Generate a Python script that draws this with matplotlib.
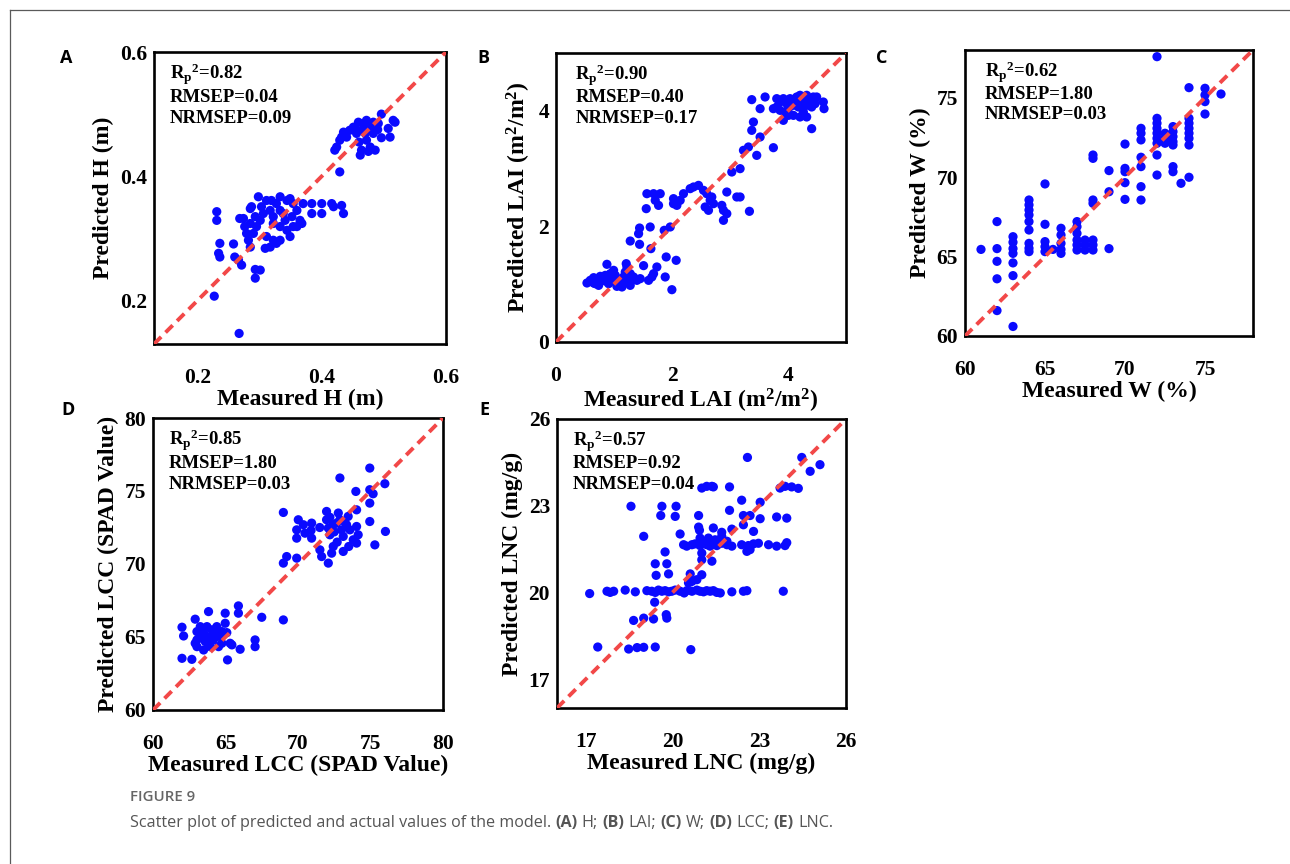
import matplotlib
matplotlib.use('Agg')
import matplotlib.pyplot as plt
from matplotlib.lines import Line2D

plt.rcParams['font.family'] = 'Liberation Serif'
plt.rcParams['font.weight'] = 'bold'
plt.rcParams['mathtext.fontset'] = 'custom'
plt.rcParams['mathtext.rm'] = 'Liberation Serif:bold'
plt.rcParams['mathtext.it'] = 'Liberation Serif:bold'
plt.rcParams['mathtext.bf'] = 'Liberation Serif:bold'

# ---- H (m) ----
h_meas = [0.496, 0.515, 0.518, 0.507, 0.510, 0.496, 0.486, 0.462, 0.464, 0.478,
          0.472, 0.483, 0.478, 0.467, 0.459, 0.451, 0.445, 0.435, 0.432, 0.429,
          0.424, 0.421, 0.440, 0.456, 0.464, 0.470, 0.472, 0.483, 0.491, 0.429,
          0.470, 0.460, 0.475, 0.490, 0.455,
          0.231, 0.231, 0.236, 0.234, 0.236, 0.258, 0.260, 0.266, 0.271, 0.293,
          0.301, 0.293, 0.274, 0.276, 0.279, 0.282, 0.285, 0.287, 0.298, 0.311,
          0.317, 0.322, 0.327, 0.333, 0.344, 0.354, 0.360, 0.365, 0.370, 0.384,
          0.384, 0.400, 0.400, 0.416, 0.419, 0.432, 0.435, 0.349, 0.344, 0.333,
          0.322, 0.317, 0.309, 0.311, 0.295, 0.290, 0.301, 0.306, 0.338, 0.352,
          0.360, 0.368, 0.333, 0.327, 0.285, 0.293, 0.303, 0.319, 0.349, 0.333,
          0.322, 0.341, 0.354, 0.285, 0.268,
          0.227, 0.267]
h_pred = [0.500, 0.490, 0.487, 0.477, 0.463, 0.462, 0.442, 0.434, 0.442, 0.447,
          0.458, 0.469, 0.479, 0.485, 0.487, 0.479, 0.474, 0.471, 0.463, 0.458,
          0.447, 0.442, 0.463, 0.469, 0.474, 0.469, 0.490, 0.487, 0.485, 0.407,
          0.480, 0.455, 0.440, 0.475, 0.475,
          0.343, 0.329, 0.292, 0.276, 0.270, 0.291, 0.270, 0.265, 0.257, 0.250,
          0.249, 0.236, 0.332, 0.319, 0.308, 0.297, 0.286, 0.351, 0.367, 0.361,
          0.345, 0.335, 0.356, 0.367, 0.361, 0.356, 0.345, 0.329, 0.356, 0.356,
          0.340, 0.356, 0.340, 0.356, 0.351, 0.353, 0.340, 0.303, 0.313, 0.319,
          0.297, 0.286, 0.284, 0.303, 0.319, 0.308, 0.329, 0.340, 0.340, 0.335,
          0.319, 0.324, 0.297, 0.292, 0.324, 0.335, 0.351, 0.361, 0.364, 0.345,
          0.324, 0.329, 0.319, 0.348, 0.332,
          0.207, 0.147]

# ---- LAI (m2/m2) ----
lai_meas = [0.534, 0.591, 0.649, 0.677, 0.735, 0.792, 0.850, 0.878, 0.907, 0.964,
            0.993, 1.022, 1.050, 1.108, 1.137, 1.165, 1.194, 1.211, 1.223, 1.251,
            1.280, 1.337, 1.395, 1.452, 1.510, 1.596, 1.653, 1.682, 1.739, 1.883,
            1.900, 1.998, 2.072, 0.649, 0.763, 0.936, 1.079, 1.165, 1.280, 1.022,
            0.850,
            1.280, 1.441, 1.424, 1.441, 1.624, 1.636, 1.866, 1.969, 1.556, 1.567,
            1.682, 1.797, 1.711, 1.768, 2.026, 2.026, 2.084, 2.141, 2.198, 2.313,
            2.371, 2.457, 2.543, 2.600, 2.658, 2.715, 2.629, 2.572, 2.686, 2.859,
            2.887, 2.945, 2.887, 2.945, 3.117, 3.174, 3.335, 3.031, 3.174, 3.232,
            3.318, 3.461, 3.519, 3.748, 3.375, 3.404, 3.519, 3.605, 3.375,
            3.806, 3.863, 3.920, 3.978, 4.035, 4.093, 4.150, 4.207, 4.265, 4.322,
            4.380, 4.437, 4.494, 4.609, 4.621, 3.806, 3.863, 3.949, 4.007, 4.093,
            4.179, 4.265, 4.322, 4.207, 4.093, 4.007, 3.920, 4.408, 3.748, 4.150,
            4.236, 4.322, 4.408, 4.466]
lai_pred = [1.021, 1.067, 1.113, 1.009, 0.980, 1.078, 1.153, 1.344, 1.009, 1.096,
            1.240, 1.153, 0.963, 1.038, 0.952, 1.125, 1.211, 1.355, 1.298, 1.067,
            1.182, 1.125, 1.067, 1.096, 1.321, 1.067, 1.125, 1.182, 1.298, 1.125,
            1.471, 0.905, 1.413, 1.021, 1.136, 1.182, 1.067, 1.009, 0.980, 1.038,
            1.055,
            1.747, 1.972, 1.874, 1.690, 1.990, 1.615, 1.932, 1.990, 2.307, 2.566,
            2.566, 2.566, 2.451, 2.364, 2.480, 2.393, 2.364, 2.451, 2.566, 2.653,
            2.682, 2.710, 2.624, 2.566, 2.451, 2.393, 2.278, 2.336, 2.509, 2.364,
            2.278, 2.220, 2.105, 2.595, 2.509, 2.509, 2.261, 2.941, 2.999, 3.316,
            3.374, 3.229, 3.547, 3.362, 3.662, 3.806, 4.037, 4.239, 4.193,
            4.210, 4.152, 4.210, 4.123, 4.210, 4.181, 4.239, 4.268, 4.210, 4.268,
            4.181, 4.239, 4.239, 4.152, 4.037, 4.066, 4.008, 3.979, 4.037, 4.095,
            4.066, 3.979, 3.893, 3.893, 3.921, 3.921, 3.835, 3.691, 4.037, 4.152,
            4.123, 4.095, 4.066, 4.123]

# ---- W (%) ----
w_meas = [61,
          62, 62, 62, 62, 62,
          63, 63, 63, 63, 63, 63, 63,
          64, 64, 64, 64, 64, 64, 64, 64, 64,
          65, 65, 65, 65, 65,
          65.5,
          66, 66, 66, 66, 66,
          67, 67, 67, 67, 67, 67,
          67.5, 67.5, 67.5,
          68, 68, 68, 68, 68, 68, 68,
          69, 69, 69,
          70, 70, 70, 70, 70,
          71, 71, 71, 71, 71, 71, 71,
          72, 72, 72, 72, 72, 72, 72, 72, 72,
          72.5, 72.5, 72.5,
          73, 73, 73, 73, 73, 73, 73,
          73.5,
          74, 74, 74, 74, 74, 74, 74, 74,
          75, 75, 75, 75,
          76]
w_pred = [65.45,
          67.2, 65.5, 64.7, 63.6, 61.6,
          66.25, 65.9, 65.5, 65.2, 64.6, 63.8, 60.6,
          68.56, 68.25, 67.93, 67.62, 67.2, 66.67, 65.83, 65.52, 65.31,
          69.57, 67.03, 65.94, 65.62, 65.31,
          65.45,
          66.78, 66.36, 65.83, 65.45, 65.2,
          67.2, 66.88, 66.46, 66.04, 65.73, 65.41,
          66.04, 65.73, 65.41,
          66.04, 65.73, 65.41, 68.56, 68.35, 71.39, 71.18,
          65.5, 69.08, 70.41,
          72.08, 70.55, 70.34, 69.65, 68.6,
          73.07, 72.76, 72.34, 71.25, 70.66, 69.4, 68.56,
          77.58, 73.7, 73.39, 73.07, 72.76, 72.44, 72.13, 71.39, 70.13,
          72.76, 72.44, 72.13,
          73.18, 72.86, 72.55, 72.23, 72.02, 70.66, 70.34,
          69.61,
          75.63, 73.7, 73.39, 73.07, 72.76, 72.44, 72.02, 69.99,
          75.59, 75.17, 74.75, 73.97,
          75.23]

# ---- LCC (SPAD value) ----
lcc_meas = [62.0, 62.11, 62.0, 62.68, 62.91, 63.03, 63.03, 63.03, 63.26, 63.49,
            63.72, 63.83, 63.94, 63.94, 64.06, 64.17, 64.40, 64.63, 64.75, 64.98,
            64.98, 65.09, 65.14, 65.32, 65.89, 65.89, 66.01, 67.04, 67.04, 67.5,
            68.99, 62.91, 63.26, 63.60, 64.29, 64.75, 63.49, 63.72, 64.52, 65.44,
            68.99, 68.99, 69.22, 70.02, 69.91, 69.91, 70.37, 70.48, 70.94, 70.94,
            71.51, 71.97, 71.97, 72.09, 72.20, 72.43, 72.66, 72.78, 72.89, 73.0,
            73.12, 73.12, 73.46, 73.58, 73.81, 73.99, 74.04, 74.04, 74.15, 74.04,
            74.95, 74.95, 74.95, 74.95, 75.18, 75.30, 75.99, 76.03, 71.63, 72.09,
            72.32, 72.89, 73.35, 72.43, 69.91, 72.5, 72.7, 73.2, 72.2, 71.5,
            70.9, 73.5]
lcc_pred = [65.67, 65.07, 63.54, 63.47, 66.22, 65.37, 64.34, 64.80, 65.71, 65.30,
            65.71, 66.74, 65.03, 64.34, 65.49, 64.80, 65.71, 65.03, 64.57, 66.63,
            65.94, 65.30, 63.43, 64.57, 67.13, 66.63, 64.16, 64.80, 64.34, 66.35,
            66.17, 64.57, 65.03, 64.69, 65.26, 65.37, 64.11, 64.80, 64.34, 64.46,
            73.53, 70.06, 70.51, 73.03, 72.34, 71.77, 72.69, 72.11, 72.80, 71.77,
            70.97, 73.60, 73.03, 72.46, 72.0, 71.20, 72.80, 73.49, 75.89, 72.34,
            71.89, 70.86, 73.26, 72.34, 71.66, 74.97, 73.71, 72.57, 72.0, 71.43,
            76.57, 75.09, 74.17, 72.91, 74.81, 71.31, 75.50, 72.23, 70.51, 70.06,
            70.74, 73.03, 72.69, 72.69, 70.40, 72.2, 71.5, 72.9, 73.2, 72.5,
            72.3, 71.2]

# ---- LNC (mg/g) ----
lnc_meas = [17.13, 17.73, 17.84, 17.96, 18.36, 18.71, 19.11, 19.28, 19.40, 19.51,
            19.63, 19.74, 19.86, 19.97, 20.09, 20.26, 20.40, 20.49, 20.67, 20.84,
            20.95, 21.07, 21.18, 21.30, 21.41, 21.53, 21.65, 22.05, 22.45, 22.57,
            23.83,
            20.38, 20.49, 20.67, 20.78, 20.95, 21.07, 21.18, 21.30, 21.41, 21.53,
            21.70, 21.88, 22.05, 22.39, 22.62, 22.80, 22.97, 23.32, 23.60, 23.89,
            23.95,
            17.41, 18.48, 18.77, 19.00, 19.40, 20.63, 18.65, 19.00, 19.34, 19.78,
            19.80, 19.38, 19.40, 19.43, 19.80, 19.86, 19.74, 20.61, 21.01, 20.84,
            20.67, 20.55, 21.01, 21.36, 20.26, 20.90, 20.93, 21.41, 21.70, 21.70,
            22.05, 22.45, 22.80, 20.95, 21.24, 21.47, 21.88, 18.56, 19.63, 19.59,
            20.12, 20.09, 19.00, 20.90, 21.97, 22.39, 22.45, 22.68, 23.03, 23.03,
            23.60, 23.95, 21.01, 21.18, 21.36, 21.41, 21.97, 23.72, 23.89, 24.12,
            24.35, 22.59, 24.47, 24.76, 25.10, 22.68, 22.57, 21.01]
lnc_pred = [19.96, 20.04, 20.00, 20.04, 20.08, 20.02, 20.06, 20.04, 20.00, 20.08,
            20.04, 20.06, 20.02, 20.04, 20.08, 20.04, 19.98, 20.06, 20.04, 20.08,
            20.04, 20.02, 20.06, 20.04, 20.06, 20.00, 19.98, 20.02, 20.04, 20.06,
            20.04,
            21.65, 21.60, 21.65, 21.68, 21.62, 21.70, 21.65, 21.60, 21.66, 21.62,
            21.70, 21.65, 21.60, 21.65, 21.62, 21.68, 21.70, 21.65, 21.60, 21.62,
            21.72,
            18.11, 18.04, 18.09, 18.10, 18.11, 18.02, 19.03, 19.11, 19.08, 19.23,
            19.11, 19.66, 20.99, 20.59, 20.99, 20.64, 21.40, 20.64, 20.61, 20.44,
            20.38, 20.33, 21.13, 21.08, 22.02, 22.26, 22.15, 22.23, 22.08, 21.94,
            22.19, 22.34, 22.11, 21.88, 21.88, 21.82, 21.77, 22.98, 22.98, 22.66,
            22.98, 22.63, 21.94, 22.66, 22.84, 23.19, 22.66, 22.66, 22.55, 23.12,
            22.61, 22.57, 23.61, 23.67, 23.67, 23.65, 23.65, 23.61, 23.67, 23.65,
            23.60, 24.67, 24.67, 24.19, 24.42, 21.48, 21.42, 21.36]

panel_letters = ['A', 'B', 'C', 'D', 'E']
x_labels = ['Measured H (m)', 'Measured LAI (m$^2$/m$^2$)', 'Measured W (%)',
            'Measured LCC (SPAD Value)', 'Measured LNC (mg/g)']
y_labels = ['Predicted H (m)', 'Predicted LAI (m$^2$/m$^2$)', 'Predicted W (%)',
            'Predicted LCC (SPAD Value)', 'Predicted LNC (mg/g)']
limits = [(0.13, 0.6), (0, 5), (60, 78), (60, 80), (16, 26)]
ticks = [[0.2, 0.4, 0.6], [0, 2, 4], [60, 65, 70, 75], [60, 65, 70, 75, 80],
         [17, 20, 23, 26]]
tick_labels = [['0.2', '0.4', '0.6'], ['0', '2', '4'], ['60', '65', '70', '75'],
               ['60', '65', '70', '75', '80'], ['17', '20', '23', '26']]
rp2 = ['0.82', '0.90', '0.62', '0.85', '0.57']
rmsep = ['0.04', '0.40', '1.80', '1.80', '0.92']
nrmsep = ['0.09', '0.17', '0.03', '0.03', '0.04']
measured = [h_meas, lai_meas, w_meas, lcc_meas, lnc_meas]
predicted = [h_pred, lai_pred, w_pred, lcc_pred, lnc_pred]

W, H = 1290, 864
fig = plt.figure(figsize=(W / 100, H / 100), dpi=100)

# axes boxes in pixels: left, top, right, bottom
boxes = [(154, 52, 446, 344), (556, 53, 846, 342), (965, 50, 1253, 336),
         (153, 418, 443, 710), (557, 419, 846, 708)]
letter_pos = [(66, 58), (483, 58), (882, 58), (68, 410), (484, 410)]
text_x = [0.055, 0.067, 0.069, 0.054, 0.054]

for i in range(5):
    l, t, r, b = boxes[i]
    ax = fig.add_axes([l / W, 1 - b / H, (r - l) / W, (b - t) / H])
    lo, hi = limits[i]
    ax.scatter(measured[i], predicted[i], s=44, color='#0a0aff',
               edgecolors='none', zorder=2)
    ln, = ax.plot([lo, hi], [lo, hi], color='#f24848', lw=2.8, zorder=3)
    ln.set_dashes([2.6, 1.6])
    ax.set_xlim(lo, hi)
    ax.set_ylim(lo, hi)
    ax.set_xticks(ticks[i])
    ax.set_xticklabels(tick_labels[i])
    ax.set_yticks(ticks[i])
    ax.set_yticklabels(tick_labels[i])
    ax.tick_params(axis='both', length=0, labelsize=15.5)
    ax.tick_params(axis='x', pad=17)
    ax.tick_params(axis='y', pad=5)
    for sp in ax.spines.values():
        sp.set_linewidth(1.9)
    ax.set_xlabel(x_labels[i], fontsize=17, fontweight='bold', labelpad=1)
    ax.set_ylabel(y_labels[i], fontsize=17, fontweight='bold', labelpad=4)

    tx = text_x[i]
    ax.text(tx, 0.905, 'R$_p$$^2$=' + rp2[i], transform=ax.transAxes,
            fontsize=13.5, fontweight='bold', va='baseline')
    ax.text(tx, 0.830, 'RMSEP=' + rmsep[i], transform=ax.transAxes,
            fontsize=13.5, fontweight='bold', va='baseline')
    ax.text(tx, 0.757, 'NRMSEP=' + nrmsep[i], transform=ax.transAxes,
            fontsize=13.5, fontweight='bold', va='baseline')

    px, py = letter_pos[i]
    fig.text(px / W, 1 - py / H, panel_letters[i], family='Open Sans',
             fontweight='bold', fontsize=13, ha='center', va='center')

# page frame
fig.add_artist(Line2D([10 / W, 1], [1 - 10 / H, 1 - 10 / H], color='#5a5a5a', lw=0.9))
fig.add_artist(Line2D([10 / W, 10 / W], [0, 1 - 10 / H], color='#5a5a5a', lw=0.9))

# caption
fig.text(130 / W, 1 - 797 / H, 'FIGURE 9', family='Open Sans', fontweight='semibold',
         fontsize=10.8, color='#666666', va='center')

runs = [('Scatter plot of predicted and actual values of the model. ', 'normal'),
        ('(A)', 'bold'), (' H; ', 'normal'), ('(B)', 'bold'), (' LAI; ', 'normal'),
        ('(C)', 'bold'), (' W; ', 'normal'), ('(D)', 'bold'), (' LCC; ', 'normal'),
        ('(E)', 'bold'), (' LNC.', 'normal')]
cap_size = 11.65

fig.canvas.draw()
renderer = fig.canvas.get_renderer()


def text_width(s, weight):
    t = fig.text(0, 0, s, family='Open Sans', fontweight=weight, fontsize=cap_size)
    w = t.get_window_extent(renderer=renderer).width
    t.remove()
    return w


space_w = text_width('a a', 'normal') - text_width('aa', 'normal')
cx = 130.0
for s, weight in runs:
    lead = len(s) - len(s.lstrip(' '))
    trail = len(s) - len(s.rstrip(' '))
    core = s.strip(' ')
    cx += lead * space_w
    fig.text(cx / W, 1 - 823 / H, core, family='Open Sans', fontweight=weight,
             fontsize=cap_size, color='#555555', va='center')
    cx += text_width(core, weight) + trail * space_w

fig.savefig('out.png', dpi=100)
